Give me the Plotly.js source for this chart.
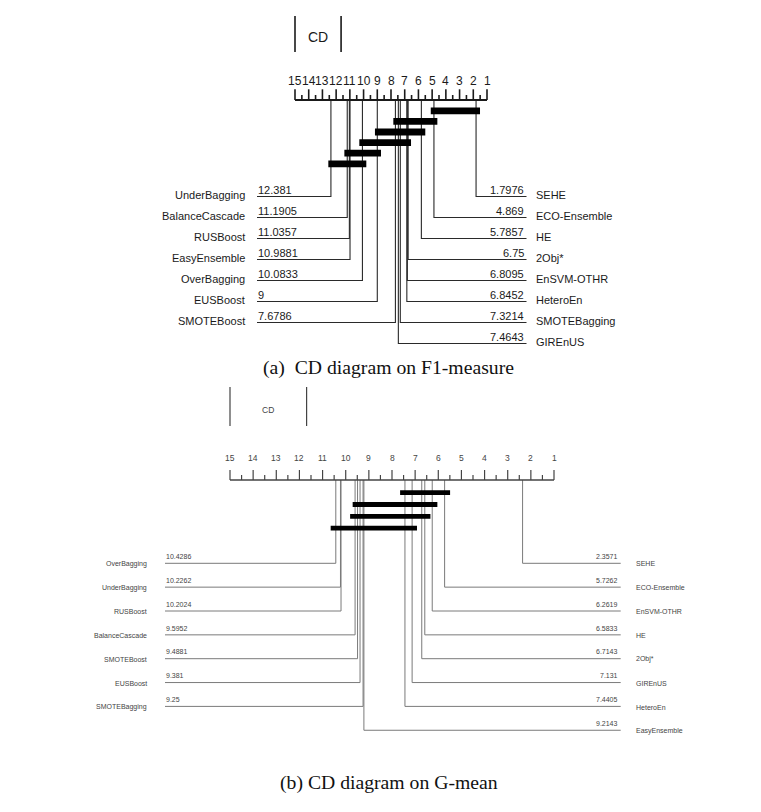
<!DOCTYPE html>
<html><head><meta charset="utf-8">
<script src="https://cdn.plot.ly/plotly-3.0.1.min.js"></script>
<style>html,body{margin:0;padding:0;background:#fff;}#chart{width:761px;height:812px;}</style>
</head><body><div id="chart"></div>
<script>
// ---------- Data: (a) F1-measure ----------
const rankTicks = [15,14,13,12,11,10,9,8,7,6,5,4,3,2,1];
const f1LeftNames  = ['UnderBagging','BalanceCascade','RUSBoost','EasyEnsemble','OverBagging','EUSBoost','SMOTEBoost'];
const f1LeftRanks  = [12.381,11.1905,11.0357,10.9881,10.0833,9,7.6786];
const f1RightNames = ['SEHE','ECO-Ensemble','HE','2Obj*','EnSVM-OTHR','HeteroEn','SMOTEBagging','GIREnUS'];
const f1RightRanks = [1.7976,4.869,5.7857,6.75,6.8095,6.8452,7.3214,7.4643];
const f1CliqueFrom = [5.1,7.83,9.17,10.31,11.4,12.57];
const f1CliqueTo   = [1.51,4.62,5.5,6.54,8.73,9.8];
const f1CD = 3.36;
const f1Caption = '(a)\u00A0\u00A0CD diagram on F1-measure';

// ---------- Data: (b) G-mean ----------
const gmLeftNames  = ['OverBagging','UnderBagging','RUSBoost','BalanceCascade','SMOTEBoost','EUSBoost','SMOTEBagging'];
const gmLeftRanks  = [10.4286,10.2262,10.2024,9.5952,9.4881,9.381,9.25];
const gmRightNames = ['SEHE','ECO-Ensemble','EnSVM-OTHR','HE','2Obj*','GIREnUS','HeteroEn','EasyEnsemble'];
const gmRightRanks = [2.3571,5.7262,6.2619,6.5833,6.7143,7.131,7.4405,9.2143];
const gmCliqueFrom = [7.65,9.7,9.81,10.65];
const gmCliqueTo   = [5.49,6.04,6.34,6.92];
const gmCD = 3.31;
const gmCaption = '(b) CD diagram on G-mean';

// ---------- Layout styles ----------
const W = 761, H = 812;
const styleA = {
  xa:'x', ya:'y', px15:295, px1:487, pxTop:0, pxBottom:370, axisPx:100,
  rowStart:96.5, rowGap:21, leftLinePx:257, leftLabelPx:246, rightLinePx:526.5, rightNumPx:525, rightLabelPx:535,
  barStart:10.8, barGap:10.6, barWidth:6.8, major:10.7, minor:5, tickLabelY:-19.5,
  cdTop:-84, cdBottom:-48, cdTextY:-63, numDy:-7, labDy:-1.2,
  lineColor:'#2a2a2a', lineWidth:1.1, axisColor:'#1a1a1a', axisWidth:2, tickWidth:1.6,
  textColor:'#1a1a1a', textSize:11, tickSize:12, cdSize:14, font:'Liberation Sans, Arial, sans-serif', cdWidth:1.6
};
const styleB = {
  xa:'x2', ya:'y2', px15:230, px1:554, pxTop:370, pxBottom:812, axisPx:480,
  rowStart:83.3, rowGap:23.85, leftLinePx:165, leftLabelPx:148, rightLinePx:620.7, rightNumPx:618.5, rightLabelPx:635,
  barStart:12.7, barGap:11.8, barWidth:4.8, major:10, minor:5, tickLabelY:-22.3,
  cdTop:-93, cdBottom:-54, cdTextY:-70, numDy:-6.8, labDy:0.6,
  lineColor:'#7a7a7a', lineWidth:1, axisColor:'#444', axisWidth:1.4, tickWidth:1.2,
  textColor:'#444', textSize:7, tickSize:8.5, cdSize:8.5, font:'Liberation Sans, Arial, sans-serif', cdWidth:1.2
};

function pxToRank(S, px){ const ppr=(S.px1-S.px15)/14; return 15 - (px - S.px15)/ppr; }

function buildPanel(S, leftNames, leftRanks, rightNames, rightRanks, cFrom, cTo, cd){
  const traces=[], ann=[];
  const fnt = {family:S.font, size:S.textSize, color:S.textColor};
  // connector lines
  const lx=[], ly=[];
  const leftEnd = pxToRank(S, S.leftLinePx), rightEnd = pxToRank(S, S.rightLinePx);
  leftRanks.forEach((r,i)=>{ const y=S.rowStart+i*S.rowGap; lx.push(r,r,leftEnd,null); ly.push(0,y,y,null);
    ann.push({x:leftEnd,y:y+S.numDy,text:String(r),xanchor:'left',yanchor:'middle',font:fnt});
    ann.push({x:pxToRank(S,S.leftLabelPx),y:y+S.labDy,text:leftNames[i],xanchor:'right',yanchor:'middle',font:fnt});
  });
  rightRanks.forEach((r,i)=>{ const y=S.rowStart+i*S.rowGap; lx.push(r,r,rightEnd,null); ly.push(0,y,y,null);
    ann.push({x:pxToRank(S,S.rightNumPx),y:y+S.numDy,text:String(r),xanchor:'right',yanchor:'middle',font:fnt});
    ann.push({x:pxToRank(S,S.rightLabelPx),y:y+S.labDy,text:rightNames[i],xanchor:'left',yanchor:'middle',font:fnt});
  });
  traces.push({type:'scatter',mode:'lines',x:lx,y:ly,xaxis:S.xa,yaxis:S.ya,line:{color:S.lineColor,width:S.lineWidth},hoverinfo:'skip',showlegend:false});
  // axis line
  traces.push({type:'scatter',mode:'lines',x:[15,1],y:[0,0],xaxis:S.xa,yaxis:S.ya,line:{color:S.axisColor,width:S.axisWidth},hoverinfo:'skip',showlegend:false});
  // ticks
  const tx=[], ty=[];
  rankTicks.forEach(t=>{ tx.push(t,t,null); ty.push(0,-S.major,null);
    if(t<15){ tx.push(t+0.5,t+0.5,null); ty.push(0,-S.minor,null); }
    ann.push({x:t,y:S.tickLabelY,text:String(t),xanchor:'center',yanchor:'middle',font:{family:S.font,size:S.tickSize,color:S.textColor}});
  });
  traces.push({type:'scatter',mode:'lines',x:tx,y:ty,xaxis:S.xa,yaxis:S.ya,line:{color:S.axisColor,width:S.tickWidth},hoverinfo:'skip',showlegend:false});
  // CD bracket
  traces.push({type:'scatter',mode:'lines',x:[15,15,null,15-cd,15-cd],y:[S.cdTop,S.cdBottom,null,S.cdTop,S.cdBottom],xaxis:S.xa,yaxis:S.ya,line:{color:S.axisColor,width:S.cdWidth},hoverinfo:'skip',showlegend:false});
  ann.push({x:15-cd/2,y:S.cdTextY,text:'CD',xanchor:'center',yanchor:'middle',font:{family:S.font,size:S.cdSize,color:S.textColor}});
  // clique bars
  const bx=[], by=[];
  cFrom.forEach((f,i)=>{ const y=S.barStart+i*S.barGap; bx.push(f,cTo[i],null); by.push(y,y,null); });
  traces.push({type:'scatter',mode:'lines',x:bx,y:by,xaxis:S.xa,yaxis:S.ya,line:{color:'#000',width:S.barWidth},hoverinfo:'skip',showlegend:false});
  ann.forEach(a=>{a.xref=S.xa; a.yref=S.ya; a.showarrow=false; a.borderpad=0;});
  return {traces, ann};
}

const pa = buildPanel(styleA, f1LeftNames, f1LeftRanks, f1RightNames, f1RightRanks, f1CliqueFrom, f1CliqueTo, f1CD);
const pb = buildPanel(styleB, gmLeftNames, gmLeftRanks, gmRightNames, gmRightRanks, gmCliqueFrom, gmCliqueTo, gmCD);

function xRange(S){ return [pxToRank(S,0), pxToRank(S,W)]; }
function yDomain(S){ return [1 - S.pxBottom/H, 1 - S.pxTop/H]; }
function yRange(S){ return [S.pxBottom - S.axisPx, S.pxTop - S.axisPx]; }
const hid = {visible:false, showgrid:false, zeroline:false, fixedrange:true};

const capFont = {family:'Liberation Serif, Times New Roman, serif',size:19.7,color:'#111'};
const captions = [
  {xref:'paper',yref:'paper',x:389/W,y:1-367/H,text:f1Caption,showarrow:false,xanchor:'center',yanchor:'middle',font:capFont},
  {xref:'paper',yref:'paper',x:389/W,y:1-782/H,text:gmCaption,showarrow:false,xanchor:'center',yanchor:'middle',font:capFont}
];

const layout = {
  width:W, height:H, margin:{l:0,r:0,t:0,b:0,pad:0},
  paper_bgcolor:'#fff', plot_bgcolor:'#fff', showlegend:false, hovermode:false,
  xaxis:Object.assign({domain:[0,1],range:xRange(styleA),anchor:'y'},hid),
  yaxis:Object.assign({domain:yDomain(styleA),range:yRange(styleA),anchor:'x'},hid),
  xaxis2:Object.assign({domain:[0,1],range:xRange(styleB),anchor:'y2'},hid),
  yaxis2:Object.assign({domain:yDomain(styleB),range:yRange(styleB),anchor:'x2'},hid),
  annotations: pa.ann.concat(pb.ann, captions)
};
Plotly.newPlot('chart', pa.traces.concat(pb.traces), layout, {staticPlot:true, displayModeBar:false});
</script></body></html>
